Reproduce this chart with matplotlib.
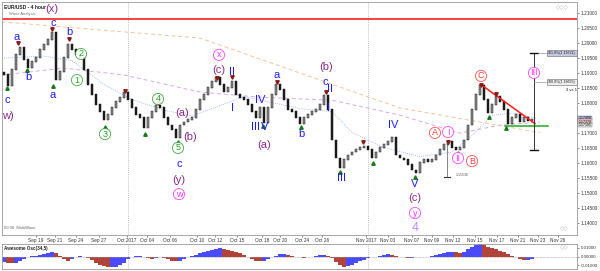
import numpy as np
import matplotlib
matplotlib.use('Agg')
import matplotlib.pyplot as plt

plt.rcParams['font.family'] = ['Liberation Sans', 'DejaVu Sans']

# 4 hour closes (one sample every second candle)
closes = [1.1892, 1.1855, 1.1909, 1.1959, 1.1982, 1.1942, 1.1915, 1.1935, 1.1949, 1.1975,
          1.1992, 1.2009, 1.2032, 1.1875, 1.1902, 1.1949, 1.1992, 1.1975, 1.1959, 1.1949,
          1.1909, 1.1859, 1.1825, 1.1792, 1.1769, 1.1742, 1.1759, 1.1782, 1.1802, 1.1815,
          1.1832, 1.1809, 1.1782, 1.1759, 1.1749, 1.1715, 1.1749, 1.1769, 1.1789, 1.1782,
          1.1749, 1.1725, 1.1709, 1.1682, 1.1725, 1.1735, 1.1742, 1.1749, 1.1775, 1.1809,
          1.1825, 1.1849, 1.1869, 1.1882, 1.1859, 1.1835, 1.1849, 1.1869, 1.1825, 1.1815,
          1.1809, 1.1792, 1.1769, 1.1749, 1.1782, 1.1732, 1.1782, 1.1825, 1.1859, 1.1842,
          1.1809, 1.1775, 1.1769, 1.1749, 1.1729, 1.1749, 1.1759, 1.1769, 1.1775, 1.1792,
          1.1822, 1.1775, 1.1675, 1.1615, 1.1582, 1.1609, 1.1625, 1.1635, 1.1642, 1.1649,
          1.1655, 1.1642, 1.1615, 1.1635, 1.1649, 1.1659, 1.1669, 1.1682, 1.1625, 1.1615,
          1.1609, 1.1592, 1.1575, 1.1565, 1.1599, 1.1609, 1.1602, 1.1609, 1.1625, 1.1642,
          1.1659, 1.1669, 1.1649, 1.1642, 1.1649, 1.1675, 1.1725, 1.1775, 1.1825, 1.1855,
          1.1809, 1.1765, 1.1792, 1.1819, 1.1802, 1.1775, 1.1729, 1.1749, 1.1759, 1.1735,
          1.1749, 1.1739, 1.1742]
first_open = 1.1900

ao = [-0.0060, -0.0070, -0.0075, -0.0070, -0.0050, -0.0030, -0.0010, 0.0005, 0.0010, 0.0015,
      0.0025, 0.0040, 0.0055, 0.0040, 0.0005, -0.0030, -0.0045, -0.0030, -0.0010, 0.0005,
      0.0000, -0.0015, -0.0040, -0.0070, -0.0090, -0.0110, -0.0120, -0.0120, -0.0115, -0.0100,
      -0.0070, -0.0030, -0.0010, 0.0005, 0.0005, -0.0010, -0.0020, -0.0025, -0.0020, -0.0010,
      -0.0015, -0.0030, -0.0045, -0.0050, -0.0045, -0.0030, -0.0010, 0.0005, 0.0020, 0.0035,
      0.0050, 0.0060, 0.0075, 0.0085, 0.0090, 0.0080, 0.0070, 0.0060, 0.0050, 0.0035,
      0.0015, -0.0010, -0.0030, -0.0045, -0.0050, -0.0045, -0.0030, -0.0010, 0.0010, 0.0025,
      0.0030, 0.0020, 0.0005, -0.0005, -0.0010, -0.0015, -0.0010, -0.0005, 0.0005, 0.0015,
      0.0020, 0.0010, -0.0020, -0.0060, -0.0100, -0.0120, -0.0110, -0.0090, -0.0070, -0.0050,
      -0.0035, -0.0020, -0.0010, 0.0000, 0.0010, 0.0020, 0.0025, 0.0020, 0.0005, -0.0005,
      -0.0010, -0.0015, -0.0015, -0.0010, -0.0010, -0.0005, 0.0000, 0.0005, 0.0015, 0.0030,
      0.0040, 0.0050, 0.0050, 0.0045, 0.0040, 0.0050, 0.0080, 0.0110, 0.0130, 0.0140,
      0.0130, 0.0110, 0.0095, 0.0080, 0.0060, 0.0050, 0.0030, 0.0010, -0.0010, -0.0025,
      -0.0040, -0.0035, -0.0030]

date_pos = [8, 12.75, 18, 23.75, 30.75, 35.75, 41.5, 48.25, 52.75, 58.25, 64.5, 69, 74.5,
            79.5, 90.5, 96, 102, 107, 112.25, 117.75, 123.25, 128.5, 133.5, 138.5]
date_lbl = ['Sep 19', 'Sep 21', 'Sep 24', 'Sep 27', 'Oct 2017', 'Oct 04', 'Oct 06', 'Oct 10',
            'Oct 12', 'Oct 15', 'Oct 18', 'Oct 20', 'Oct 24', 'Oct 26', 'Nov 2017', 'Nov 03',
            'Nov 07', 'Nov 09', 'Nov 12', 'Nov 15', 'Nov 17', 'Nov 21', 'Nov 23', 'Nov 26']
month_lines = [31, 91]

resistance = 1.2077

# moving averages, read at a few points (bar index, price)
ma_fast_x = [-0.5, 10, 17, 25, 32, 40, 47, 53, 60, 67, 74, 82, 87, 95, 104, 112, 117, 122, 127, 133]
ma_fast_y = [1.1948, 1.1955, 1.1940, 1.1860, 1.1810, 1.1775, 1.1755, 1.1785, 1.1820, 1.1800,
             1.1780, 1.1770, 1.1700, 1.1650, 1.1620, 1.1635, 1.1690, 1.1757, 1.1765, 1.1748]
ma_slow_x = [-0.5, 15, 30, 49, 64, 82, 99, 114, 124, 134]
ma_slow_y = [1.1892, 1.1915, 1.1892, 1.1835, 1.1818, 1.1808, 1.1758, 1.1698, 1.1725, 1.1735]
ma_long_x = [-0.5, 49, 99, 134]
ma_long_y = [1.2069, 1.2015, 1.1782, 1.1700]

# (text, bar index, price, colour, style)
labels = [
    ('(x)', 12, 1.2112, '#8a2b8a', 'plain'), ('w)', 1, 1.1755, '#8a2b8a', 'plain'),
    ('c', 0.75, 1.1809, '#1c1cff', 'plain'), ('a', 3.25, 1.2019, '#1c1cff', 'plain'),
    ('b', 6, 1.1885, '#1c1cff', 'plain'), ('c', 12.25, 1.2065, '#1c1cff', 'plain'),
    ('a', 12.25, 1.1825, '#1c1cff', 'plain'), ('b', 16.25, 1.2035, '#1c1cff', 'plain'),
    ('2', 19.25, 1.1962, '#2ca02c', 'circle'), ('1', 18.25, 1.1875, '#2ca02c', 'circle'),
    ('3', 25.25, 1.1695, '#2ca02c', 'circle'), ('4', 38.5, 1.1812, '#2ca02c', 'circle'),
    ('(a)', 44.5, 1.1765, '#8a2b8a', 'plain'), ('(b)', 46.5, 1.1685, '#8a2b8a', 'plain'),
    ('5', 43.5, 1.1649, '#2ca02c', 'circle'), ('c', 43.75, 1.1595, '#1c1cff', 'plain'),
    ('(y)', 43.75, 1.1542, '#8a2b8a', 'plain'), ('w', 43.75, 1.1495, '#ff33ff', 'circle'),
    ('x', 53.75, 1.1959, '#ff33ff', 'circle'), ('(c)', 53.75, 1.1909, '#8a2b8a', 'plain'),
    ('II', 57, 1.1902, '#1c1cff', 'plain'), ('I', 57, 1.1782, '#1c1cff', 'plain'),
    ('IV', 64, 1.1809, '#1c1cff', 'plain'), ('III', 63, 1.1719, '#1c1cff', 'plain'),
    ('V', 65.25, 1.1719, '#1c1cff', 'plain'), ('(a)', 65, 1.1659, '#8a2b8a', 'plain'),
    ('a', 68.25, 1.1892, '#1c1cff', 'plain'), ('b', 74.25, 1.1695, '#1c1cff', 'plain'),
    ('(b)', 80.5, 1.1919, '#8a2b8a', 'plain'), ('c', 80.25, 1.1869, '#1c1cff', 'plain'),
    ('II', 81.5, 1.1845, '#1c1cff', 'plain'), ('I', 81, 1.1782, '#1c1cff', 'plain'),
    ('III', 84.25, 1.1549, '#1c1cff', 'plain'), ('IV', 97.25, 1.1725, '#1c1cff', 'plain'),
    ('V', 102.75, 1.1529, '#1c1cff', 'plain'), ('(c)', 102.75, 1.1482, '#8a2b8a', 'plain'),
    ('y', 102.75, 1.1432, '#ff33ff', 'circle'), ('4', 102.75, 1.1382, '#b48cff', 'plain'),
    ('A', 107.75, 1.1699, '#ff3b3b', 'circle'), ('I', 111, 1.1702, '#ff33ff', 'circle'),
    ('II', 113.5, 1.1615, '#ff33ff', 'circle'), ('B', 117, 1.1605, '#ff3b3b', 'circle'),
    ('C', 119.25, 1.1889, '#ff3b3b', 'circle'), ('III', 132.5, 1.1899, '#ff33ff', 'circle'),
]

tops = [(3.5, 1.1998), (12, 1.2045), (16.25, 1.2012), (30.25, 1.1840), (38.5, 1.1800),
        (53.25, 1.1882), (57, 1.1885), (68.25, 1.1868), (80.5, 1.1835), (89.75, 1.1669),
        (111, 1.1669), (119.25, 1.1860), (123, 1.1830)]
lows = [(0.75, 1.1848), (5.75, 1.1910), (12.25, 1.1855), (25.25, 1.1718), (35.25, 1.1695),
        (43.5, 1.1668), (64.75, 1.1722), (74.25, 1.1720), (84, 1.1569), (92.25, 1.1600),
        (102.75, 1.1552), (113.5, 1.1632), (121.25, 1.1752), (125.5, 1.1715)]

# last values shown on the price scale
scale_vals = [1.1749, 1.1737, 1.1725]
scale_txt = ['1.17490', '1.17370', '1.17185']

fig = plt.figure(figsize=(6, 2.71), dpi=100)
ax = fig.add_axes([2 / 600, 36 / 271, 575 / 600, 233 / 271])
ax2 = fig.add_axes([2 / 600, 2 / 271, 575 / 600, 25 / 271])

x = np.arange(len(closes))
opens = np.concatenate([[first_open], closes[:-1]])
c = np.array(closes)
up = c >= opens
bottoms = np.minimum(opens, c)
heights = np.abs(c - opens) + 0.0002
ax.bar(x[up], heights[up], bottom=bottoms[up], width=0.55, color='#8c8c8c',
       edgecolor='#1a1a1a', linewidth=0.35, zorder=3)
ax.bar(x[~up], heights[~up], bottom=bottoms[~up], width=0.55, color='#1a1a1a',
       edgecolor='#1a1a1a', linewidth=0.35, zorder=3)

ax.axhline(resistance, color='#ff2020', lw=1.2, zorder=2)
ax.plot(ma_fast_x, ma_fast_y, color='#8fa8ff', lw=0.6, ls=(0, (1, 1.5)), zorder=1)
ax.plot(ma_slow_x, ma_slow_y, color='#d9a8e8', lw=0.7, ls=(0, (4, 3)), zorder=1)
ax.plot(ma_long_x, ma_long_y, color='#f7c39a', lw=0.7, ls=(0, (4, 3)), zorder=1)
for m in month_lines:
    ax.axvline(m, color='#aaaaaa', lw=0.6, ls=(0, (1, 1.5)), zorder=1)
    ax2.axvline(m, color='#aaaaaa', lw=0.6, ls=(0, (1, 1.5)), zorder=1)

# triangle pattern
ax.plot([119.25, 132.75], [1.1860, 1.1730], color='#ff1a1a', lw=1.1, zorder=4)
ax.plot([125.25, 136], [1.1722, 1.1722], color='#22aa22', lw=1.1, zorder=4)
ax.plot([132.5, 132.5], [1.1965, 1.1642], color='#333333', lw=0.7, zorder=4)
ax.plot([131.5, 133.5], [1.1965, 1.1965], color='#111111', lw=1.0, zorder=4)
ax.plot([131.5, 133.5], [1.1642, 1.1642], color='#111111', lw=1.0, zorder=4)
ax.plot([133.5, 136], [1.1965, 1.1965], color='#999999', lw=0.5, zorder=4)
ax.plot([132.5, 136], [1.1868, 1.1868], color='#999999', lw=0.5, zorder=4)
ax.plot([110.75, 110.75], [1.1670, 1.1552], color='#555555', lw=0.5, zorder=4)
ax.plot([110, 111.5], [1.1552, 1.1552], color='#333333', lw=0.8, zorder=4)
ax.text(113, 1.1560, '1.15536', fontsize=2.5, color='#555555', va='center')

for tx, ty in tops:
    ax.plot(tx, ty, marker='v', ms=2.5, color='#8b1a1a', zorder=5, ls='none')
for tx, ty in lows:
    ax.plot(tx, ty, marker='^', ms=2.5, color='#1a7a1a', zorder=5, ls='none')

for txt, lx, ly, col, style in labels:
    if style == 'circle':
        ax.text(lx, ly, txt, fontsize=6.5, color=col, ha='center', va='center', zorder=6,
                bbox=dict(boxstyle='circle,pad=0.12', fc='white', ec=col, lw=0.6, alpha=0.9))
    else:
        fs = 9 if txt == '4' else 8
        ax.text(lx, ly, txt, fontsize=fs, color=col, ha='center', va='center', zorder=6)

ax.text(136, 1.1965, '161.8%(1.19621)', fontsize=2.6, color='#222222', va='center',
        bbox=dict(boxstyle='square,pad=0.3', fc='#c5c9e2', ec='#666666', lw=0.4), zorder=6)
ax.text(136, 1.1868, '100.0%(1.18655)', fontsize=2.6, color='#222222', va='center',
        bbox=dict(boxstyle='square,pad=0.3', fc='#eeeeee', ec='#666666', lw=0.4), zorder=6)
ax.text(140.5, 1.1842, '3 vs 1', fontsize=3, color='#111111', va='center', zorder=6)

ax.text(0.004, 0.985, 'EUR/USD - 4 hour', transform=ax.transAxes, fontsize=3.6,
        fontweight='bold', va='top', color='#222222')
ax.text(0.012, 0.955, 'Wave Analysis', transform=ax.transAxes, fontsize=3.0,
        va='top', color='#777777')
ax.text(0.004, 0.02, '00:00  MultiWave', transform=ax.transAxes, fontsize=3.0,
        va='bottom', color='#666666')
ax.text(0.985, 0.985, '\u25c7\u25c7\u25c7', transform=ax.transAxes, fontsize=4,
        va='top', ha='right', color='#aaaaaa')
ax.text(0.985, 0.015, '\u25c7\u25c7', transform=ax.transAxes, fontsize=4,
        va='bottom', ha='right', color='#aaaaaa')

ax.set_xlim(-0.5, 143.25)
ax.set_ylim(1.13587, 1.21353)
ax.yaxis.tick_right()
yt = np.round(np.arange(1.14, 1.2101, 0.005), 3)
ax.set_yticks(yt)
# the 1.17500 label sits under the last-value boxes
ax.set_yticklabels(['' if abs(v - 1.175) < 1e-6 else '%.5f' % v for v in yt])
ax.set_xticks(date_pos)
ax.set_xticklabels(date_lbl)
ax.tick_params(axis='y', labelsize=3.4, length=1.5, width=0.4, pad=1, colors='#333333')
ax.tick_params(axis='x', labelsize=3.4, length=1.5, width=0.4, pad=1, colors='#333333')
for s in ax.spines.values():
    s.set_color('#999999')
    s.set_linewidth(0.6)

for yv, fc, t in zip(scale_vals, ['#b9bde0', '#f0c8c8', '#e8e8e8'], scale_txt):
    ax.text(1.003, yv, t, transform=ax.get_yaxis_transform(), fontsize=2.5, va='center',
            bbox=dict(boxstyle='square,pad=0.1', fc=fc, ec='#666666', lw=0.3),
            clip_on=False, zorder=7)

# Awesome oscillator
ao = np.array(ao)
ao_up = np.concatenate([[True], ao[1:] >= ao[:-1]])
cols = np.where(ao_up, '#4a4aff', '#b0443a')
ax2.bar(x, ao, width=1.0, color=cols, linewidth=0)
ax2.axhline(0, color='#999999', lw=0.5, ls=(0, (1, 1)))
ax2.set_xlim(-0.5, 143.25)
ax2.set_ylim(-0.0139, 0.0139)
ax2.yaxis.tick_right()
ax2.set_yticks([-0.01, 0.0, 0.01])
ax2.set_yticklabels(['-0.01000', '0.00000', '0.01000'])
ax2.set_xticks([])
ax2.tick_params(axis='y', labelsize=3.2, length=1.5, width=0.4, pad=1, colors='#333333')
ax2.text(0.004, 0.93, 'Awesome Osc(34,5)', transform=ax2.transAxes, fontsize=3.3,
         fontweight='bold', va='top', color='#222222')
ax2.text(0.985, 0.93, '\u25c7\u25c7', transform=ax2.transAxes, fontsize=4,
         va='top', ha='right', color='#aaaaaa')
for s in ax2.spines.values():
    s.set_color('#999999')
    s.set_linewidth(0.6)

fig.savefig('out.png', dpi=100)
